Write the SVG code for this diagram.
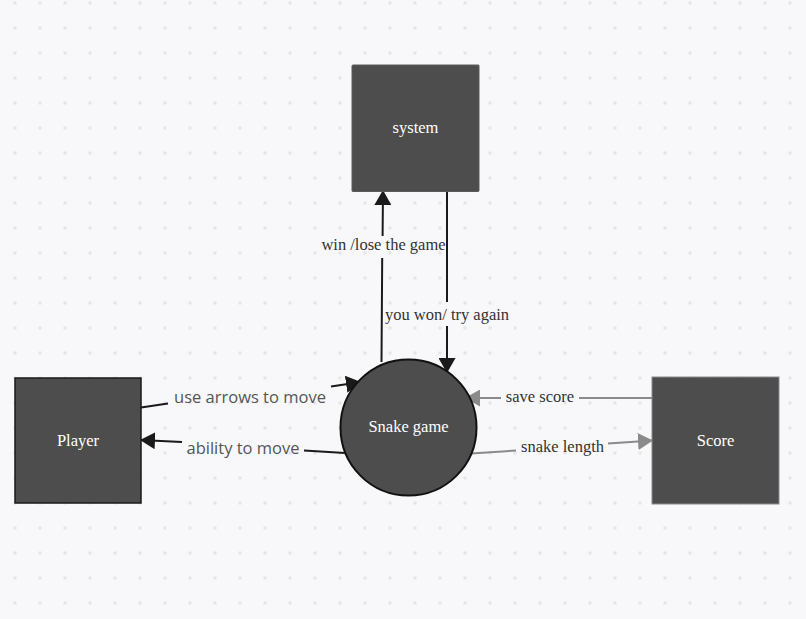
<svg xmlns="http://www.w3.org/2000/svg" width="806" height="619" viewBox="0 0 806 619">
<style>
.node{fill:#4d4d4d}
.ntext{font-family:"Liberation Serif","Times New Roman",serif;font-size:16.5px;fill:#ffffff;text-anchor:middle}
.slabel{font-family:"Liberation Serif","Times New Roman",serif;font-size:16.5px;fill:#333333;text-anchor:middle}
.olabel{font-family:"Open Sans","Noto Sans",sans-serif;font-size:16.5px;fill:#555555;text-anchor:middle}
.dark{fill:none;stroke:#1a1a1a;stroke-width:2}
.grey{fill:none;stroke:#8a8a8a;stroke-width:2}
</style>
<defs>
<pattern id="dots" patternUnits="userSpaceOnUse" x="2.5" y="-9.5" width="25" height="25">
<circle cx="12.5" cy="12.5" r="1.7" fill="#e4e4e8"/>
</pattern>
<marker id="ad" markerUnits="userSpaceOnUse" markerWidth="15" markerHeight="17" refX="15" refY="8.5" orient="auto">
<path d="M0,0 L15,8.5 L0,17 z" fill="#1a1a1a"/>
</marker>
<marker id="ag" markerUnits="userSpaceOnUse" markerWidth="15" markerHeight="17" refX="15" refY="8.5" orient="auto">
<path d="M0,0 L15,8.5 L0,17 z" fill="#8a8a8a"/>
</marker>
</defs>
<rect width="806" height="619" fill="#f8f8fa"/>
<rect width="806" height="619" fill="url(#dots)"/>

<g id="connectors">
<path class="dark" d="M381.5,362 L382.2,258 M382.6,236 L383,190" marker-end="url(#ad)"/>
<path class="dark" d="M447,191 L447,302 M447,326 L447,373" marker-end="url(#ad)"/>
<path class="dark" d="M141,407.5 L168,403.5 M331,386.5 L361,382" marker-end="url(#ad)"/>
<path class="dark" d="M345,453 L304,450.5 M182,442 L140,440" marker-end="url(#ad)"/>
<path class="grey" d="M652,398 L579,398 M501,398 L465,398" marker-end="url(#ag)"/>
<path class="grey" d="M471,453.5 L516,450.5 M608,443.5 L653,440.5" marker-end="url(#ag)"/>
<text class="slabel" x="383.5" y="250">win /lose the game</text>
<text class="slabel" x="447" y="320">you won/ try again</text>
<text class="olabel" x="250" y="403">use arrows to move</text>
<text class="olabel" x="243" y="453.5">ability to move</text>
<text class="slabel" x="540" y="402">save score</text>
<text class="slabel" x="562.5" y="452">snake length</text>
</g>

<g id="system">
<rect class="node" x="352" y="65" width="127" height="126.5" rx="1" stroke="#5a5a5a" stroke-width="1"/>
<text class="ntext" x="415.5" y="133">system</text>
</g>
<g id="player">
<rect class="node" x="15" y="378" width="126" height="125" fill="#4a4a4a" stroke="#1a1a1a" stroke-width="1.5"/>
<text class="ntext" x="78" y="446">Player</text>
</g>
<g id="snake-game">
<circle class="node" cx="408.5" cy="427.5" r="68" stroke="#111111" stroke-width="2"/>
<text class="ntext" x="408.5" y="432">Snake game</text>
</g>
<g id="score">
<rect class="node" x="652" y="377" width="127" height="127" stroke="#8a8a8a" stroke-width="1"/>
<text class="ntext" x="715.5" y="446">Score</text>
</g>
</svg>
